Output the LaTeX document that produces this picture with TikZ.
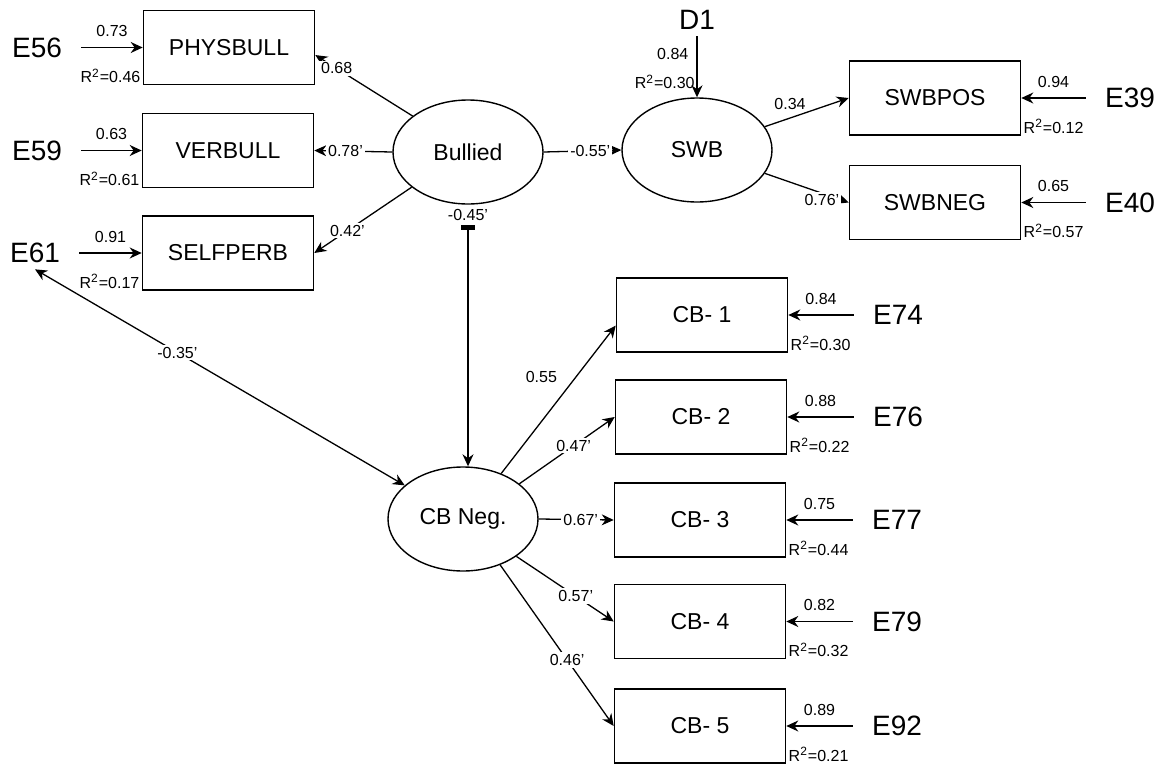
\documentclass[tikz,border=0pt]{standalone}
\usepackage{fontspec}
\setmainfont{Liberation Sans}
\usepackage{tikz}
\usetikzlibrary{arrows.meta,shapes.geometric}

\begin{document}
\begin{tikzpicture}[x=0.5pt, y=-0.5pt, >={Stealth[length=6pt,width=5.5pt]},
    latent/.style={draw, ellipse, line width=0.7pt, minimum width=75pt, minimum height=52pt, font=\fontsize{11.5}{12}\selectfont},
    manifest/.style={draw, rectangle, line width=0.8pt, minimum width=85.5pt, minimum height=37pt, font=\fontsize{11.5}{12}\selectfont},
    errlabel/.style={inner xsep=9.5pt, inner ysep=3pt, font=\fontsize{14}{15}\selectfont},
    coef/.style={inner sep=1pt, font=\fontsize{8}{9}\selectfont},
    oncoef/.style={coef, fill=white},
    link/.style={->, line width=0.65pt}]
    \useasboundingbox (0,0) rectangle (1169,766);

    % Latent variables
    \node[latent] (bull) at (468,152) {Bullied};
    \node[latent] (swb) at (697,150) {SWB};
    \node[latent] (cbneg) at (463,519) {CB Neg.};

    % Indicators of Bullied
    \node[manifest] (phys) at (229,47.5) {PHYSBULL};
    \node[manifest] (verb) at (228,150.5) {VERBULL};
    \node[manifest] (self) at (228,253) {SELFPERB};

    % Indicators of SWB
    \node[manifest] (swbpos) at (935,98) {SWBPOS};
    \node[manifest] (swbneg) at (935,202.5) {SWBNEG};

    % Indicators of CB Neg.
    \node[manifest] (cb1) at (702,315) {CB- 1};
    \node[manifest] (cb2) at (701,417) {CB- 2};
    \node[manifest] (cb3) at (700,520) {CB- 3};
    \node[manifest] (cb4) at (700,621.5) {CB- 4};
    \node[manifest] (cb5) at (700,726) {CB- 5};

    % Error and disturbance terms
    \node[errlabel] (e56) at (37,47.5) {E56};
    \node[errlabel] (e59) at (37,150.5) {E59};
    \node[errlabel] (e61) at (35,253) {E61};
    \node[errlabel] (d1) at (697,20) {D1};
    \node[errlabel] (e39) at (1130,98) {E39};
    \node[errlabel] (e40) at (1130,202.5) {E40};
    \node[errlabel] (e74) at (898,315) {E74};
    \node[errlabel] (e76) at (898,417) {E76};
    \node[errlabel] (e77) at (897,520) {E77};
    \node[errlabel] (e79) at (897,621.5) {E79};
    \node[errlabel] (e92) at (897,726) {E92};

    % Error paths
    \draw[link] (e56) -- (phys) node[coef, midway, above=4pt] {0.73};
    \draw[link] (e59) -- (verb) node[coef, midway, above=4pt] {0.63};
    \draw[link] (e61) -- (self) node[coef, midway, above=4pt] {0.91};
    \draw[link] (d1) -- (swb) node[coef, pos=0.3, left=3pt] {0.84};
    \draw[link] (e39) -- (swbpos) node[coef, midway, above=4pt] {0.94};
    \draw[link] (e40) -- (swbneg) node[coef, midway, above=4pt] {0.65};
    \draw[link] (e74) -- (cb1) node[coef, midway, above=4pt] {0.84};
    \draw[link] (e76) -- (cb2) node[coef, midway, above=4pt] {0.88};
    \draw[link] (e77) -- (cb3) node[coef, midway, above=4pt] {0.75};
    \draw[link] (e79) -- (cb4) node[coef, midway, above=4pt] {0.82};
    \draw[link] (e92) -- (cb5) node[coef, midway, above=4pt] {0.89};

    % R squared
    \node[coef, anchor=south east] (rphys) at (phys.south west) {R\textsuperscript{2}=0.46};
    \node[coef, anchor=south east] (rverb) at (verb.south west) {R\textsuperscript{2}=0.61};
    \node[coef, anchor=south east] (rself) at (self.south west) {R\textsuperscript{2}=0.17};
    \node[coef, anchor=south east, yshift=3pt] (rswb) at (swb.north) {R\textsuperscript{2}=0.30};
    \node[coef, anchor=south west] (rpos) at (swbpos.south east) {R\textsuperscript{2}=0.12};
    \node[coef, anchor=south west] (rneg) at (swbneg.south east) {R\textsuperscript{2}=0.57};
    \node[coef, anchor=south west] (rcb1) at (cb1.south east) {R\textsuperscript{2}=0.30};
    \node[coef, anchor=south west] (rcb2) at (cb2.south east) {R\textsuperscript{2}=0.22};
    \node[coef, anchor=south west] (rcb3) at (cb3.south east) {R\textsuperscript{2}=0.44};
    \node[coef, anchor=south west] (rcb4) at (cb4.south east) {R\textsuperscript{2}=0.32};
    \node[coef, anchor=south west] (rcb5) at (cb5.south east) {R\textsuperscript{2}=0.21};

    % Bullied loadings
    \draw[link] (bull.147) -- (phys.-5) node[oncoef, pos=0.78] {0.68};
    \draw[link] (bull.west) -- (verb.east) node[oncoef, pos=0.6] {0.78'};
    \draw[link] (bull.212) -- (self.east) node[oncoef, pos=0.66] {0.42'};

    % Structural paths
    \draw[link] (bull.east) -- (swb.west) node[oncoef, pos=0.6] {-0.55'};
    \draw[{Rectangle[length=2.5pt,width=7pt]}-{Stealth[length=6pt,width=5.5pt]}, line width=0.65pt, shorten <=10pt]
        (bull.south) -- (bull.south |- cbneg.north) node[coef, pos=0, below=1pt] {-0.45'};
    \draw[link, <->] (e61.south) -- (cbneg.150) node[oncoef, pos=0.385] {-0.35'};

    % SWB loadings
    \draw[link] (swb.19) -- (swbpos.west) node[coef, pos=0.3, above=3pt] {0.34};
    \draw[link] (swb.-19) -- (swbneg.west) node[oncoef, pos=0.68, below=-1pt] {0.76'};

    % CB Neg. loadings
    \draw[link] (cbneg.50) -- (cb1.187) node[coef, pos=0.65, left=8pt] {0.55};
    \draw[link] (cbneg.32) -- (cb2.west) node[oncoef, pos=0.57] {0.47'};
    \draw[link] (cbneg.east) -- (cb3.west) node[oncoef, pos=0.56] {0.67'};
    \draw[link] (cbneg.-35) -- (cb4.west) node[oncoef, pos=0.61] {0.57'};
    \draw[link] (cbneg.-51) -- (cb5.west) node[oncoef, pos=0.59] {0.46'};
\end{tikzpicture}
\end{document}
